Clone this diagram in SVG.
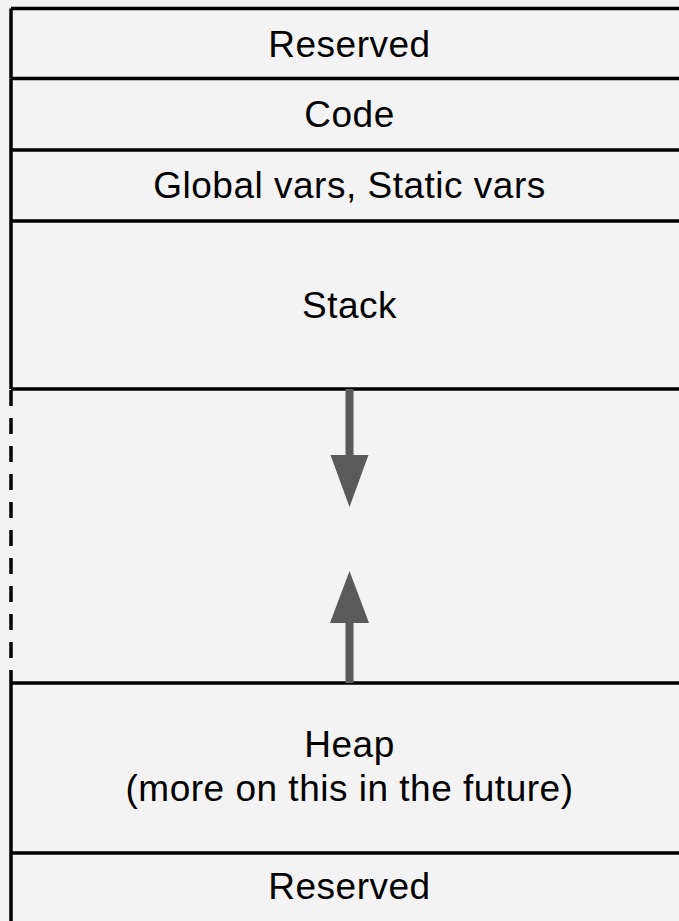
<svg xmlns="http://www.w3.org/2000/svg" width="679" height="921" viewBox="0 0 679 921">
<style>
.bg{fill:#f3f3f3}
.ln{stroke:#000;stroke-width:3.5;fill:none}
.dash{stroke:#000;stroke-width:3.5;fill:none;stroke-dasharray:16 12}
.t{font-family:"Liberation Sans",Arial,sans-serif;font-size:37px;letter-spacing:0.5px;fill:#000;text-anchor:middle}
.arrow{fill:#5a5a5a}
</style>
<rect class="bg" x="0" y="0" width="679" height="921"/>
<g id="reserved-top">
<path class="ln" d="M11,8.5 H690 M11,8.5 V78.5 M11,78.5 H690"/>
<text class="t" x="349.5" y="56.5">Reserved</text>
</g>
<g id="code">
<path class="ln" d="M11,78.5 V150 M11,150 H690"/>
<text class="t" x="349.5" y="127">Code</text>
</g>
<g id="globals">
<path class="ln" d="M11,150 V221 M11,221 H690"/>
<text class="t" x="349.5" y="198">Global vars, Static vars</text>
</g>
<g id="stack">
<path class="ln" d="M11,221 V389 M11,389 H690"/>
<text class="t" x="349.5" y="318">Stack</text>
</g>
<g id="free">
<path class="dash" d="M11,390 V683"/>
</g>
<g id="heap">
<path class="ln" d="M11,683 H690 M11,683 V853"/>
<text class="t" x="349.5" y="757">Heap</text>
<text class="t" x="349.5" y="801">(more on this in the future)</text>
</g>
<g id="reserved-bottom">
<path class="ln" d="M11,853 H690 M11,853 V925"/>
<text class="t" x="349.5" y="899">Reserved</text>
</g>
<g id="connectors">
<path class="arrow" d="M345.5,389 H353.5 V455 H368.5 L349.5,507 L330.5,455 H345.5 Z"/>
<path class="arrow" d="M345.5,683 H353.5 V623 H369 L349.5,571 L330,623 H345.5 Z"/>
</g>
</svg>
